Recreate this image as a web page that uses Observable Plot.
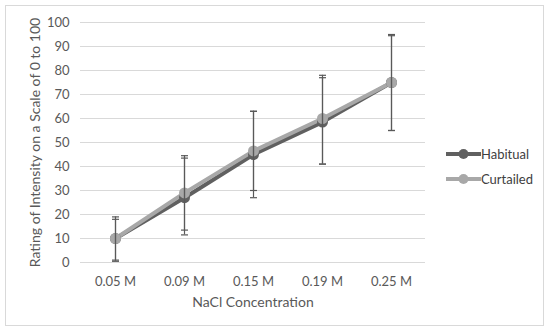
<!DOCTYPE html>
<html>
<head>
<meta charset="utf-8">
<script src="https://cdn.jsdelivr.net/npm/d3@7"></script>
<script src="https://cdn.jsdelivr.net/npm/@observablehq/plot@0.6"></script>
<style>
  html, body { margin: 0; padding: 0; background: #fff; }
  #wrap { position: relative; width: 550px; height: 334px; font-family: Lato, "Liberation Sans", sans-serif; }
  #frame { position: absolute; left: 5px; top: 5px; width: 539px; height: 321px; border: 1px solid #d9d9d9; box-sizing: border-box; pointer-events: none; }
  #chart { position: absolute; left: 0; top: 0; }
  #legend { position: absolute; left: 446px; top: 141px; font-size: 13px; color: #404040; }
  .item { display: flex; align-items: center; height: 25px; }
  .item svg { margin-right: 0px; }
</style>
</head>
<body>
<div id="wrap">
  <div id="chart"></div>
  <div id="frame"></div>
  <div id="legend"></div>
</div>
<script>
const categories = ["0.05 M", "0.09 M", "0.15 M", "0.19 M", "0.25 M"];
const seriesNames = ["Habitual", "Curtailed"];
const seriesColors = ["#606060", "#a8a8a8"];
const habitual = [10, 27, 45, 58.5, 75];
const curtailed = [10, 29, 46.5, 60, 75];
const habitualLow = [1, 11.5, 27, 41, 55];
const habitualHigh = [19, 43.5, 63, 77, 95];
const curtailedLow = [0.5, 13.5, 30, 41, 55];
const curtailedHigh = [18, 44.5, 63, 78, 94.5];
const yTicks = [0, 10, 20, 30, 40, 50, 60, 70, 80, 90, 100];

const rows = [];
categories.forEach((c, i) => {
  rows.push({cat: c, series: "Habitual", value: habitual[i], low: habitualLow[i], high: habitualHigh[i]});
});
categories.forEach((c, i) => {
  rows.push({cat: c, series: "Curtailed", value: curtailed[i], low: curtailedLow[i], high: curtailedHigh[i]});
});

const capSymbol = {
  draw(context, size) {
    const w = 3.5;
    context.moveTo(-w, 0);
    context.lineTo(w, 0);
  }
};

const errColor = "#595959";
const chart = Plot.plot({
  width: 550,
  height: 334,
  marginLeft: 80,
  marginRight: 125,
  marginTop: 22,
  marginBottom: 72,
  style: {fontFamily: "Lato, 'Liberation Sans', sans-serif", fontSize: "13px", color: "#595959", background: "transparent"},
  x: {type: "point", domain: categories, padding: 0.5, label: null},
  y: {domain: [0, 100], ticks: yTicks, label: null},
  color: {domain: seriesNames, range: seriesColors},
  marks: [
    Plot.gridY(yTicks, {stroke: "#d9d9d9", strokeOpacity: 1, strokeWidth: 1}),
    Plot.axisY(yTicks, {tickSize: 0, tickPadding: 11, fontSize: 13, fill: "#595959", label: null}),
    Plot.axisX({tickSize: 0, tickPadding: 14, fontSize: 13, fill: "#595959", label: null}),
    Plot.text(["NaCl Concentration"], {frameAnchor: "bottom", lineAnchor: "middle", dy: 40, fontSize: 14, fill: "#595959"}),
    Plot.text(["Rating of Intensity on a Scale of 0 to 100"], {frameAnchor: "left", textAnchor: "middle", lineAnchor: "middle", dx: -45, rotate: -90, fontSize: 14, fill: "#595959"}),
    Plot.line(rows, {x: "cat", y: "value", z: "series", stroke: "series", strokeWidth: 4}),
    Plot.dot(rows, {x: "cat", y: "value", fill: "series", r: 5.5, stroke: null}),
    Plot.ruleX(rows, {x: "cat", y1: "low", y2: "high", stroke: errColor, strokeWidth: 1.2}),
    Plot.dot(rows, {x: "cat", y: "low", symbol: capSymbol, stroke: errColor, fill: "none", strokeWidth: 1.2}),
    Plot.dot(rows, {x: "cat", y: "high", symbol: capSymbol, stroke: errColor, fill: "none", strokeWidth: 1.2}),
  ]
});
document.getElementById("chart").appendChild(chart);

// legend
const legend = document.getElementById("legend");
seriesNames.forEach((name, i) => {
  const item = document.createElement("div");
  item.className = "item";
  item.innerHTML = `<svg width="35" height="12"><line x1="0" x2="35" y1="6" y2="6" stroke="${seriesColors[i]}" stroke-width="4"/><circle cx="17.5" cy="6" r="5" fill="${seriesColors[i]}"/></svg><span>${name}</span>`;
  legend.appendChild(item);
});
</script>
</body>
</html>
